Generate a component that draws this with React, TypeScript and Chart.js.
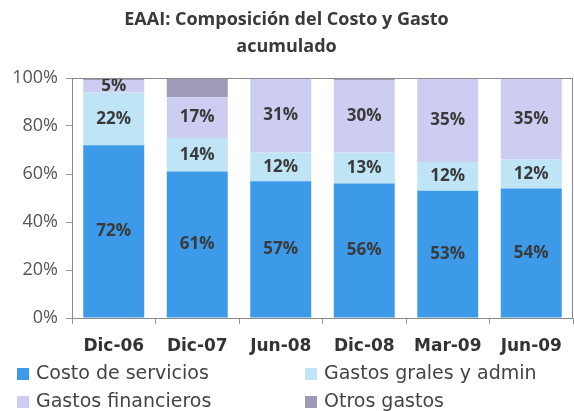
import React, { useEffect, useRef } from "react";
import { Chart, registerables } from "chart.js";

Chart.register(...registerables);

const categories = ["Dic-06", "Dic-07", "Jun-08", "Dic-08", "Mar-09", "Jun-09"];
const costoServicios = [72, 61, 57, 56, 53, 54];
const gastosGrales = [22, 14, 12, 13, 12, 12];
const gastosFinancieros = [5, 17, 31, 30, 35, 35];
const otrosGastos = [1, 8, 0, 1, 0, 0];
const yTicks = [0, 20, 40, 60, 80, 100];
const seriesNames = ["Costo de servicios", "Gastos grales y admin", "Gastos financieros", "Otros gastos"];
const seriesColors = ["#3d9ae8", "#bfe4f6", "#cccdf0", "#9e9bb6"];

const FONT = "'Open Sans', 'DejaVu Sans', sans-serif";
const WIDE = "'DejaVu Sans', sans-serif";

const labelsPlugin = {
  id: "segLabels",
  afterDatasetsDraw(chart: any) {
    const ctx = chart.ctx;
    ctx.save();
    ctx.font = `bold 17px ${FONT}`;
    ctx.fillStyle = "#3a3a3a";
    ctx.textAlign = "center";
    ctx.textBaseline = "middle";
    chart.data.datasets.forEach((ds: any, di: number) => {
      if (di === 3) return;
      const meta = chart.getDatasetMeta(di);
      meta.data.forEach((bar: any, i: number) => {
        const v = ds.data[i];
        if (!v) return;
        const top = Math.max(bar.y, chart.chartArea.top);
        ctx.fillText(v + "%", bar.x, (top + bar.base) / 2);
      });
    });
    ctx.restore();
  },
  afterDraw(chart: any) {
    const ctx = chart.ctx;
    const a = chart.chartArea;
    ctx.save();
    ctx.strokeStyle = "#8a8a8a";
    ctx.lineWidth = 1;
    ctx.strokeRect(a.left + 0.5, a.top + 0.5, a.right - a.left - 1, a.bottom - a.top);
    // legend
    const items = [
      { x: 17, y: 374 },
      { x: 305, y: 374 },
      { x: 17, y: 402 },
      { x: 305, y: 402 },
    ];
    ctx.font = `19px ${WIDE}`;
    ctx.textBaseline = "middle";
    ctx.textAlign = "left";
    items.forEach((p, i) => {
      ctx.fillStyle = seriesColors[i];
      ctx.fillRect(p.x, p.y - 6, 12, 12);
      ctx.fillStyle = "#444";
      ctx.fillText(seriesNames[i], p.x + 19, p.y);
    });
    ctx.restore();
  },
};

export default function App() {
  const ref = useRef<HTMLCanvasElement>(null);
  useEffect(() => {
    if (!ref.current) return;
    const chart = new Chart(ref.current, {
      type: "bar",
      data: {
        labels: categories,
        datasets: [costoServicios, gastosGrales, gastosFinancieros, otrosGastos].map((d, i) => ({
          label: seriesNames[i],
          data: d,
          backgroundColor: seriesColors[i],
          borderWidth: 0,
          categoryPercentage: 0.73,
          barPercentage: 1,
        })),
      },
      options: {
        animation: false,
        responsive: false,
        layout: { padding: { left: 0, right: 1, top: 0, bottom: 50 } },
        plugins: {
          legend: { display: false },
          tooltip: { enabled: false },
          title: {
            display: true,
            text: ["EAAI: Composición del Costo y Gasto", "acumulado"],
            color: "#3a3a3a",
            font: { family: FONT, size: 18, weight: "bold", lineHeight: 1.5 },
            padding: { top: 6, bottom: 18 },
          },
        },
        scales: {
          x: {
            stacked: true,
            border: { display: false },
            grid: { drawOnChartArea: false, drawTicks: true, tickLength: 6, offset: true, color: "#999" },
            ticks: { color: "#333", font: { family: WIDE, size: 17, weight: "bold" }, padding: 12 },
            afterFit(s: any) { s.height = 43; },
          },
          y: {
            stacked: true,
            min: 0,
            max: 100,
            border: { display: false },
            grid: { drawOnChartArea: false, drawTicks: true, tickLength: 6, color: "#999" },
            afterBuildTicks(s: any) { s.ticks = yTicks.map((v) => ({ value: v })); },
            ticks: {
              color: "#555",
              font: { family: FONT, size: 18 },
              padding: 8,
              callback: (v: any) => v + "%",
            },
            afterFit(s: any) { s.width = 72; },
          },
        },
      },
      plugins: [labelsPlugin],
    });
    return () => chart.destroy();
  }, []);
  return (
    <div style={{ position: "fixed", left: 0, top: 0, width: 574, height: 411, background: "#fff" }}>
      <canvas ref={ref} width={574} height={411} style={{ width: 574, height: 411 }} />
    </div>
  );
}
